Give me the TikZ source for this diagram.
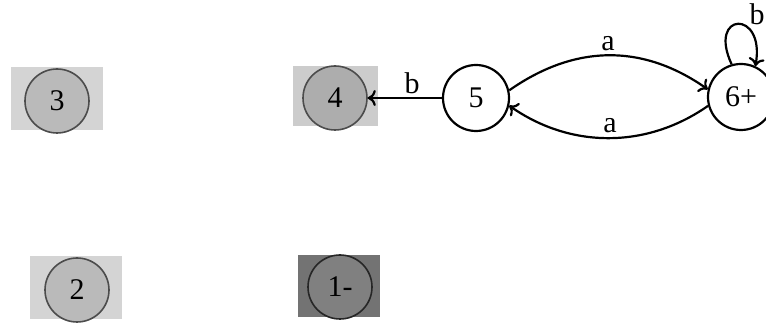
\documentclass[tikz,border=0pt]{standalone}
\usepackage{fontspec}
\setmainfont{Liberation Serif}
\usetikzlibrary{arrows.meta}
\begin{document}
\begin{tikzpicture}[x=0.5pt,y=-0.5pt,
  txt/.style={font=\fontsize{15}{18}\selectfont},
  state/.style={circle,draw,line width=1.1pt,minimum size=33pt,inner sep=0pt,txt},
  ghost/.style={circle,draw=black!70,line width=0.8pt,minimum size=32pt,inner sep=0pt,txt},
  backrect/.style={rectangle,inner sep=0pt,draw=none},
  edge/.style={line width=1.1pt,-{To[length=4pt,width=8pt]}},
  lbl/.style={txt,inner sep=1pt}]
\useasboundingbox (0,0) rectangle (766,325);
% faded states
\node[backrect,fill=black!17,minimum width=46pt,minimum height=31.5pt] (r3) at (57,99) {};
\node[ghost,fill=black!27] (n3) at (57,101) {3};
\node[backrect,fill=black!20,minimum width=42.5pt,minimum height=30pt] (r4) at (335,96) {};
\node[ghost,fill=black!32] (n4) at (335,98) {4};
\node[backrect,fill=black!17,minimum width=46pt,minimum height=31.5pt] (r2) at (76,288) {};
\node[ghost,fill=black!27] (n2) at (77,290) {2};
\node[backrect,fill=black!55,minimum width=41pt,minimum height=31pt] (r1) at (339,286) {};
\node[ghost,fill=black!50,draw=black!85] (n1) at (340,287) {1-};
% active states
\node[state] (n5) at (476,98) {5};
\node[state] (n6) at (741,97) {6+};
% edges
\draw[edge] (n5) -- (n4);
\node[lbl] (lb1) at (412,83) {b};
\draw[edge] (n5.13) .. controls +(-35:80) and +(-145:80) .. (n6.167);
\node[lbl] (la1) at (608,44) {a};
\draw[edge] (n6.-165) .. controls +(145:75) and +(35:75) .. (n5.-13);
\node[lbl] (la2) at (610,126) {a};
\draw[edge] (n6.106) .. controls +(-115:58) and +(-80:58) .. (n6.65);
\node[lbl] (lb2) at (757,14) {b};
\end{tikzpicture}
\end{document}
